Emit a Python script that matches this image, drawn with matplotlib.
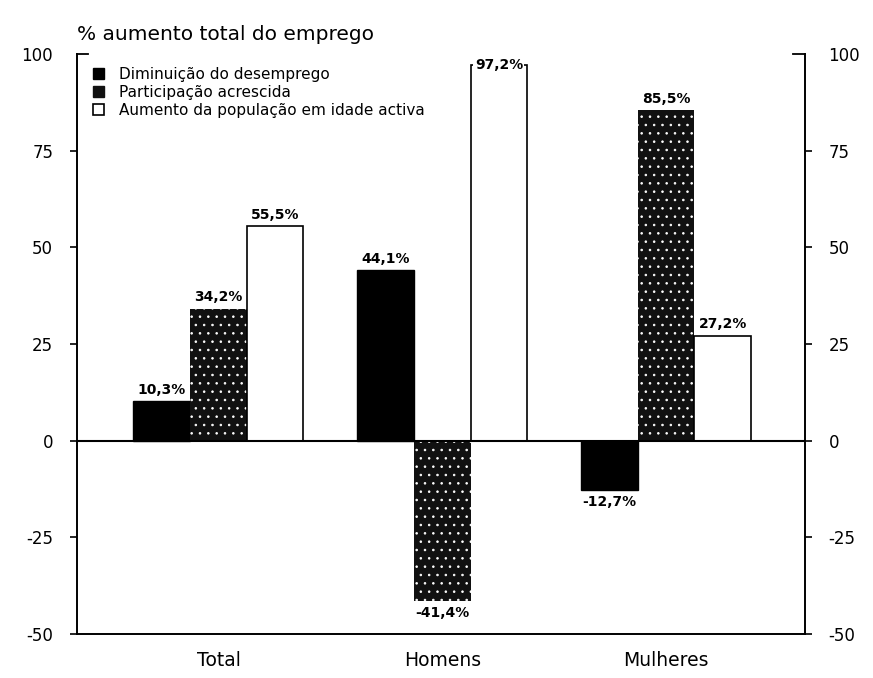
import numpy as np
import matplotlib.pyplot as plt
from matplotlib.patches import Patch

# data
categories = ['Total', 'Homens', 'Mulheres']
series_names = ['Diminuição do desemprego', 'Participação acrescida',
                'Aumento da população em idade activa']
desemprego = [10.3, 44.1, -12.7]
participacao = [34.2, -41.4, 85.5]
populacao = [55.5, 97.2, 27.2]
y_ticks = [100, 75, 50, 25, 0, -25, -50]

plt.rcParams['hatch.linewidth'] = 0.6
plt.rcParams['axes.unicode_minus'] = False

fig = plt.figure(figsize=(8.73, 6.78), dpi=100)
ax = fig.add_axes([0.088, 0.065, 0.834, 0.855])

centers = np.array([2.5, 6.45, 10.4])
w = 1.0

styles = [
    dict(facecolor='black', edgecolor='black', linewidth=1.0),
    dict(facecolor='#111111', edgecolor='white', hatch='..', linewidth=0),
    dict(facecolor='white', edgecolor='black', linewidth=1.2),
]
series = [desemprego, participacao, populacao]

for i, (vals, st) in enumerate(zip(series, styles)):
    xs = centers + (i - 1) * w
    ax.bar(xs, vals, width=w, zorder=2, **st)
    for x, v in zip(xs, vals):
        txt = f'{v:.1f}%'.replace('.', ',')
        if v > 90:
            # label sits on the top edge of the tall bar
            ax.text(x, v, txt, ha='center', va='center', fontsize=10,
                    fontweight='bold', zorder=4,
                    bbox=dict(facecolor='white', edgecolor='none', pad=1))
        elif v >= 0:
            ax.annotate(txt, (x, v), xytext=(0, 3), textcoords='offset points',
                        ha='center', va='bottom', fontsize=10, fontweight='bold')
        else:
            ax.annotate(txt, (x, v), xytext=(0, -4), textcoords='offset points',
                        ha='center', va='top', fontsize=10, fontweight='bold')

ax.axhline(0, color='black', lw=1.5, zorder=3)

ax.set_xlim(0, 12.85)
ax.set_ylim(-50, 100)
ax.spines['top'].set_visible(False)
for s in ['left', 'right', 'bottom']:
    ax.spines[s].set_linewidth(1.4)

ax.set_yticks(y_ticks)
ax.tick_params(axis='y', direction='out', length=5, width=1.2,
               labelsize=12, pad=12, right=True, labelright=True)
ax.set_xticks(centers)
ax.set_xticklabels(categories)
ax.tick_params(axis='x', length=0, labelsize=13.5, pad=12)

# top of each vertical axis ends in an inward bracket instead of a tick
for t, loc in zip(ax.yaxis.get_major_ticks(), ax.get_yticks()):
    if loc == 100:
        t.tick1line.set_visible(False)
        t.tick2line.set_visible(False)
ax.plot([0, 0.016], [1, 1], transform=ax.transAxes, color='black', lw=1.3,
        clip_on=False)
ax.plot([0.984, 1], [1, 1], transform=ax.transAxes, color='black', lw=1.3,
        clip_on=False)

ax.text(0.0, 1.034, '% aumento total do emprego', transform=ax.transAxes,
        ha='left', va='center', fontsize=14.5)

handles = [Patch(facecolor='black', edgecolor='black'),
           Patch(facecolor='#111111', edgecolor='#111111'),
           Patch(facecolor='white', edgecolor='black', linewidth=1.2)]
ax.legend(handles, series_names, loc='upper left', bbox_to_anchor=(0.022, 0.978),
          frameon=False, fontsize=11, handlelength=0.7, handleheight=0.7,
          handletextpad=1.0, labelspacing=0.2, borderaxespad=0, borderpad=0)

plt.savefig('out.png', dpi=100)
